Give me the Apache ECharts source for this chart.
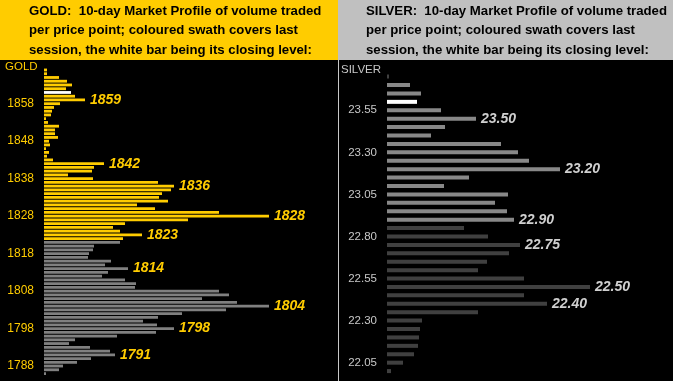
<!DOCTYPE html>
<html>
<head>
<meta charset="utf-8">
<script src="https://cdn.jsdelivr.net/npm/echarts@6/dist/echarts.min.js"></script>
<style>
html,body{margin:0;padding:0;background:#000;}
#c{width:673px;height:381px;}
</style>
</head>
<body>
<div id="c"></div>
<script>
// ---- GOLD data (top to bottom) ----
const goldPrices = [1867,1866,1865,1864,1863,1862,1861,1860,1859,1858,1857,1856,1855,1854,1853,1852,1851,1850,1849,1848,1847,1846,1845,1844,1843,1842,1841,1840,1839,1838,1837,1836,1835,1834,1833,1832,1831,1830,1829,1828,1827,1826,1825,1824,1823,1822,1821,1820,1819,1818,1817,1816,1815,1814,1813,1812,1811,1810,1809,1808,1807,1806,1805,1804,1803,1802,1801,1800,1799,1798,1797,1796,1795,1794,1793,1792,1791,1790,1789,1788,1787,1786];
const goldVolumes = [3,3,15,23,28,22,27,31,41,16,10,8,7,2,4,15,11,11,14,5,6,2,5,3,9,60,50,48,24,49,114,130,127,118,115,124,93,111,175,225,144,81,69,76,98,79,76,50,49,45,44,67,61,84,64,58,81,92,91,175,185,158,193,225,182,138,114,99,113,130,112,73,31,25,46,66,71,47,33,19,15,2];
const goldTicks = [1858,1848,1838,1828,1818,1808,1798,1788];
const goldSessionLow = 1822;
const goldSessionHigh = 1867;
const goldClose = 1861;
const goldMarked = [1859,1842,1836,1828,1823,1814,1804,1798,1791];

// ---- SILVER data (top to bottom) ----
const silverPrices = ['23.75','23.70','23.65','23.60','23.55','23.50','23.45','23.40','23.35','23.30','23.25','23.20','23.15','23.10','23.05','23.00','22.95','22.90','22.85','22.80','22.75','22.70','22.65','22.60','22.55','22.50','22.45','22.40','22.35','22.30','22.25','22.20','22.15','22.10','22.05','22.00'];
const silverVolumes = [2,23,34,30,54,89,58,44,114,131,142,173,82,57,121,108,120,127,77,101,133,122,100,91,137,203,137,160,91,35,33,32,31,27,16,4];
const silverTicks = ['23.55','23.30','23.05','22.80','22.55','22.30','22.05'];
const silverSessionLow = 22.90;
const silverSessionHigh = 23.70;
const silverClose = 23.60;
const silverMarked = ['23.50','23.20','22.90','22.75','22.50','22.40'];

const GOLD = '#FFCC00';
const chart = echarts.init(document.getElementById('c'), null, {renderer:'canvas'});

const labelBase = {fontStyle:'italic', fontWeight:'bold', fontSize:14, fontFamily:'Arial, "Liberation Sans", sans-serif'};

const goldData = goldPrices.map((p,i)=>{
  const inSession = p >= goldSessionLow && p <= goldSessionHigh;
  const color = p === goldClose ? '#FFFFFF' : (inSession ? GOLD : '#808080');
  const marked = goldMarked.includes(p);
  return {value: goldVolumes[i], itemStyle:{color},
    label: marked ? Object.assign({show:true, position:'right', distance:5, color:GOLD, formatter:String(p)}, labelBase) : {show:false}};
});
const silverData = silverPrices.map((p,i)=>{
  const v = parseFloat(p);
  const inSession = v >= silverSessionLow - 1e-9 && v <= silverSessionHigh + 1e-9;
  const color = Math.abs(v - silverClose) < 1e-9 ? '#FFFFFF' : (inSession ? '#888888' : '#404040');
  const marked = silverMarked.includes(p);
  return {value: silverVolumes[i], itemStyle:{color},
    label: marked ? Object.assign({show:true, position:'right', distance:5, color:'#D0D0D0', formatter:p}, labelBase) : {show:false}};
});

const tickFont = 'Arial, "Liberation Sans", sans-serif';

chart.setOption({
  backgroundColor:'#000000',
  animation:false,
  graphic:[
    {type:'rect', shape:{x:0,y:0,width:338,height:60}, style:{fill:GOLD}, silent:true, z:-10},
    {type:'rect', shape:{x:338,y:0,width:335,height:60}, style:{fill:'#C0C0C0'}, silent:true, z:-10},
    {type:'rect', shape:{x:338,y:60,width:1,height:321}, style:{fill:'#C8C8C8'}, silent:true, z:-10}
  ],
  title:[
    {text:'GOLD:  10-day Market Profile of volume traded\nper price point; coloured swath covers last\nsession, the white bar being its closing level:',
     left:29, top:1.5, padding:0,
     textStyle:{color:'#000', fontWeight:'bold', fontSize:13.2, lineHeight:19.5, fontFamily:'Arial, "Liberation Sans", sans-serif'}},
    {text:'SILVER:  10-day Market Profile of volume traded\nper price point; coloured swath covers last\nsession, the white bar being its closing level:',
     left:366, top:1.5, padding:0,
     textStyle:{color:'#000', fontWeight:'bold', fontSize:13.2, lineHeight:19.5, fontFamily:'Arial, "Liberation Sans", sans-serif'}},
    {text:'GOLD', left:5, top:61, padding:0, textStyle:{color:GOLD, fontWeight:'normal', fontSize:11.5, fontFamily:tickFont}},
    {text:'SILVER', left:341, top:63.5, padding:0, textStyle:{color:'#C8C8C8', fontWeight:'normal', fontSize:11.5, fontFamily:tickFont}}
  ],
  grid:[
    {left:44, top:68.1, width:292, height:307.3, containLabel:false},
    {left:387, top:72.4, width:286, height:302.9, containLabel:false}
  ],
  xAxis:[
    {gridIndex:0, type:'value', min:0, max:292, show:false},
    {gridIndex:1, type:'value', min:0, max:286, show:false}
  ],
  yAxis:[
    {gridIndex:0, type:'category', inverse:true, data:goldPrices.map(String),
     axisLine:{show:false}, axisTick:{show:false}, splitLine:{show:false},
     axisLabel:{color:GOLD, fontSize:12, fontFamily:tickFont, margin:10,
       interval:(idx,val)=>goldTicks.includes(Number(val))}},
    {gridIndex:1, type:'category', inverse:true, data:silverPrices,
     axisLine:{show:false}, axisTick:{show:false}, splitLine:{show:false},
     axisLabel:{color:'#C8C8C8', fontSize:11.5, fontFamily:tickFont, margin:10,
       interval:(idx,val)=>silverTicks.includes(val)}}
  ],
  series:[
    {type:'bar', xAxisIndex:0, yAxisIndex:0, barWidth:2.8, data:goldData, silent:true},
    {type:'bar', xAxisIndex:1, yAxisIndex:1, barWidth:4, data:silverData, silent:true}
  ]
});
</script>
</body>
</html>
